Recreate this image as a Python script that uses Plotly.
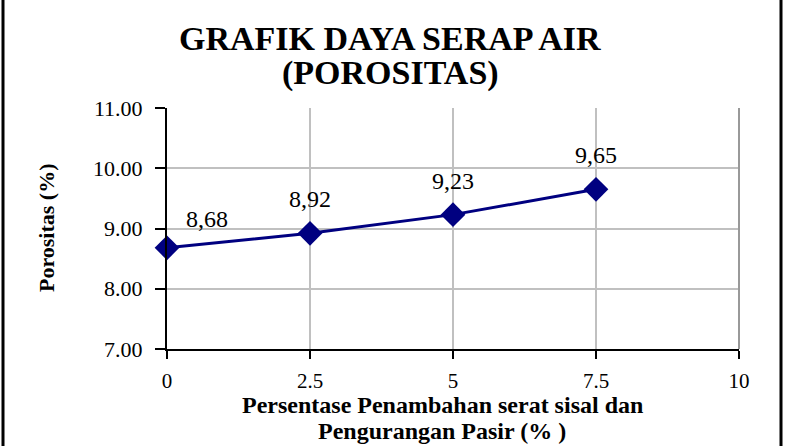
import plotly.graph_objects as go

x_vals = [0, 2.5, 5, 7.5]
porositas = [8.68, 8.92, 9.23, 9.65]
point_labels = ["8,68", "8,92", "9,23", "9,65"]
x_ticks = [0, 2.5, 5, 7.5, 10]
x_tick_text = ["0", "2.5", "5", "7.5", "10"]
y_ticks = [7, 8, 9, 10, 11]
y_tick_text = ["7.00", "8.00", "9.00", "10.00", "11.00"]

SERIF = "Liberation Serif"
NAVY = "#000080"

fig = go.Figure()
fig.add_trace(go.Scatter(
    x=x_vals, y=porositas, mode="lines+markers",
    line=dict(color=NAVY, width=3),
    marker=dict(symbol="diamond", size=19, color=NAVY),
    cliponaxis=False, showlegend=False, hoverinfo="skip",
))

for i, (xv, yv, t) in enumerate(zip(x_vals, porositas, point_labels)):
    first = i == 0
    fig.add_annotation(x=xv, y=yv, text=t, showarrow=False, xref="x", yref="y",
                       xanchor="center", yanchor="bottom",
                       xshift=40 if first else 0, yshift=14 if first else 19,
                       font=dict(family=SERIF, size=24, color="black"))

fig.update_xaxes(
    range=[0, 10], tickvals=x_ticks, ticktext=x_tick_text,
    showgrid=True, gridcolor="#c0c0c0", gridwidth=1.5,
    showline=True, linecolor="black", linewidth=2,
    ticks="outside", ticklen=8, tickwidth=2, tickcolor="black",
    tickfont=dict(family=SERIF, size=21, color="black"),
    ticklabelstandoff=4, zeroline=False,
)
fig.update_yaxes(
    range=[7, 11], tickvals=y_ticks, ticktext=y_tick_text,
    showgrid=True, gridcolor="#c0c0c0", gridwidth=1.5,
    showline=True, linecolor="black", linewidth=2,
    ticks="outside", ticklen=10, tickwidth=2, tickcolor="black",
    tickfont=dict(family=SERIF, size=22, color="black"),
    ticklabelstandoff=8, zeroline=False,
)

# Title
fig.add_annotation(text="<b>GRAFIK DAYA SERAP AIR</b>", xref="paper", yref="paper",
                   x=(390 - 167) / 572, y=(349 - 39) / 241, showarrow=False,
                   xanchor="center", yanchor="middle",
                   font=dict(family=SERIF, size=34, color="black"))
fig.add_annotation(text="<b>(POROSITAS)</b>", xref="paper", yref="paper",
                   x=(390 - 167) / 572, y=(349 - 73) / 241, showarrow=False,
                   xanchor="center", yanchor="middle",
                   font=dict(family=SERIF, size=34, color="black"))
# X title
fig.add_annotation(text="<b>Persentase Penambahan serat sisal dan</b>", xref="paper", yref="paper",
                   x=(442 - 167) / 572, y=(349 - 405) / 241, showarrow=False,
                   xanchor="center", yanchor="middle",
                   font=dict(family=SERIF, size=24, color="black"))
fig.add_annotation(text="<b>Pengurangan Pasir (% )</b>", xref="paper", yref="paper",
                   x=(442 - 167) / 572, y=(349 - 431) / 241, showarrow=False,
                   xanchor="center", yanchor="middle",
                   font=dict(family=SERIF, size=24, color="black"))
# Y title
fig.add_annotation(text="<b>Porositas (%)</b>", xref="paper", yref="paper",
                   x=(46 - 167) / 572, y=(349 - 228) / 241, showarrow=False,
                   xanchor="center", yanchor="middle", textangle=-90,
                   font=dict(family=SERIF, size=22, color="black"))

# Right plot border (grey) and outer frame lines
fig.add_shape(type="line", xref="paper", yref="paper", x0=1, x1=1, y0=0, y1=1,
              line=dict(color="#999999", width=2))
fig.add_shape(type="line", xref="paper", yref="paper", x0=(3 - 167) / 572, x1=(3 - 167) / 572,
              y0=-1, y1=2, line=dict(color="black", width=3))
fig.add_shape(type="line", xref="paper", yref="paper", x0=(781 - 167) / 572, x1=(781 - 167) / 572,
              y0=-1, y1=2, line=dict(color="black", width=3))

fig.update_layout(
    width=789, height=446,
    margin=dict(l=167, r=50, t=108, b=97),
    paper_bgcolor="white", plot_bgcolor="white",
    showlegend=False,
)

fig.write_html("out.html")
